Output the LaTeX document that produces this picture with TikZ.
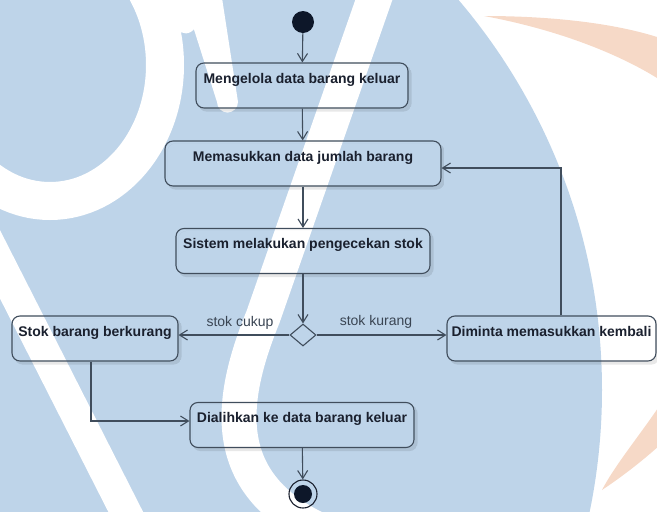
\documentclass[tikz,border=0pt]{standalone}
\usepackage{fontspec}
\setmainfont{Liberation Sans}
\usetikzlibrary{arrows.meta,shapes.geometric}

\definecolor{wmblue}{RGB}{190,212,233}
\definecolor{wmorange}{RGB}{246,217,199}
\definecolor{ink}{RGB}{26,32,46}
\definecolor{edgec}{RGB}{64,77,92}
\definecolor{dotc}{RGB}{13,23,41}

\tikzset{
  act/.style={draw=edgec, line width=1.1pt, rounded corners=8pt,
    inner xsep=3pt, inner ysep=5pt, text height=15pt, text depth=20pt,
    font=\fontsize{14}{16}\selectfont\bfseries, text=ink},
  flow/.style={draw=edgec, line width=1.1pt,
    -{Straight Barb[length=8pt,width=10pt,line width=1.1pt]}},
  guard/.style={font=\fontsize{14}{16}\selectfont, text=edgec!90!black, inner sep=1pt},
  band/.style={draw=white, line cap=round},
  shade/.style={fill=black, opacity=0.09},
}

% soft shadow along the lower and right sides of an activity box
\newcommand\actshadow[1]{%
  \begin{scope}
    \clip[rounded corners=8pt] ([shift={(3pt,-3pt)}]#1.south west)
      rectangle ([shift={(3pt,-3pt)}]#1.north east);
    \fill[shade, even odd rule, rounded corners=8pt]
      ([shift={(3pt,-3pt)}]#1.south west) rectangle ([shift={(3pt,-3pt)}]#1.north east)
      (#1.south west) rectangle (#1.north east);
  \end{scope}}

\begin{document}
\begin{tikzpicture}[x=1pt, y=-1pt]
\useasboundingbox (0,0) rectangle (657,512);

% background emblem
\begin{scope}
  \clip (0,0) rectangle (657,512);
  \fill[wmblue] (0,390) circle[radius=602pt];
  % orange crescent on the right
  \fill[wmorange] (484,16) .. controls (560,16) and (640,25) .. (690,50)
    .. controls (760,150) and (760,350) .. (660,445)
    .. controls (640,463) and (620,478) .. (602,490)
    .. controls (615,465) and (640,435) .. (660,405)
    .. controls (720,300) and (720,150) .. (657,78)
    .. controls (620,55) and (560,30) .. (484,16) -- cycle;
  % white strokes of the emblem
  \draw[band, line width=38pt] (50,65) ellipse [x radius=115pt, y radius=136pt];
  \fill[white] (184,-2) -- (222,-2) -- (238,102)
    arc[start angle=0, end angle=-180, radius=10.5pt] -- cycle;
  \fill[white] (150,-2) -- (196,-2) -- (195,28)
    .. controls (190,35) and (182,35) .. (177,29) -- (165,10) -- cycle;
  \draw[band, line width=35pt] (378,-12) -- (263,317)
    .. controls (225,410) and (222,490) .. (330,535);
  \draw[band, line width=31pt] (-20,225) -- (140,540);
\end{scope}

% activity nodes
\node[circle, fill=dotc, minimum size=22pt, inner sep=0pt] (start) at (303,22) {};
\node[act, minimum width=212pt] (a1) at (302,85.5) {Mengelola data barang keluar};
\node[act, minimum width=276pt] (a2) at (303,163.5) {Memasukkan data jumlah barang};
\node[act, minimum width=254pt] (a3) at (303,251) {Sistem melakukan pengecekan stok};
\node[shape=diamond, draw=edgec, line width=1.1pt, minimum width=26pt,
      minimum height=22pt, inner sep=0pt] (dec) at (303,335) {};
\node[act, minimum width=166pt] (sb) at (95,338.5) {Stok barang berkurang};
\node[act, minimum width=209pt] (dm) at (551.5,338.5) {Diminta memasukkan kembali};
\node[act, minimum width=224pt] (dk) at (302,425) {Dialihkan ke data barang keluar};
\node[circle, draw=ink, line width=1.1pt, minimum size=28pt, inner sep=0pt] (stop) at (303,494) {};
\node[circle, fill=dotc, minimum size=18pt, inner sep=0pt] (stopdot) at (stop) {};

\foreach \n in {a1,a2,a3,sb,dm,dk} {\actshadow{\n}}

% guard labels
\node[guard] (lcukup) at (240,323) {stok cukup};
\node[guard] (lkurang) at (376,322) {stok kurang};

% control flow
\draw[flow] (start) -- (a1);
\draw[flow] (a1) -- (a2);
\draw[flow] (a2) -- (a3);
\draw[flow] (a3) -- (dec);
\draw[flow] (dec.west) -- (dec.west -| sb.east);
\draw[flow] (dec.east) -- (dec.east -| dm.west);
\draw[flow] ([xshift=9.5pt]dm.north) |- ([yshift=-4.5pt]a2.east);
\draw[flow] ([xshift=-4pt]sb.south) |- ([yshift=4pt]dk.west);
\draw[flow] (dk) -- (stop);
\end{tikzpicture}
\end{document}
